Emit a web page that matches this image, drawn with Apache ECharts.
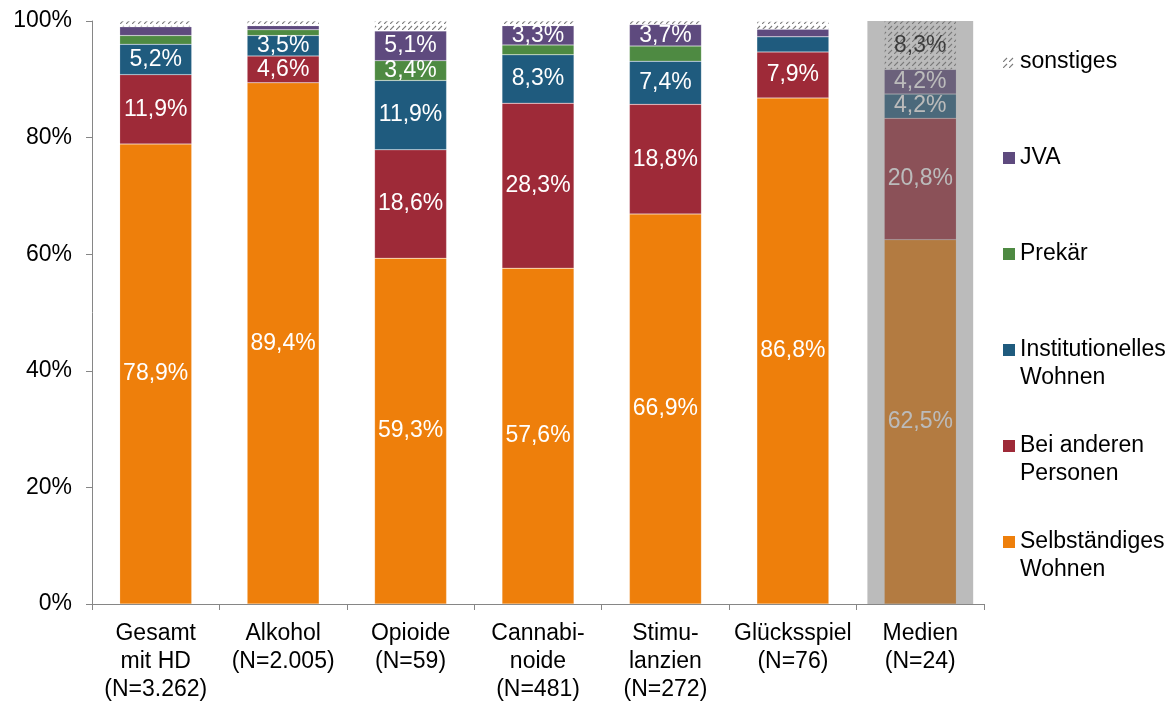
<!DOCTYPE html>
<html>
<head>
<meta charset="utf-8">
<script src="https://cdn.jsdelivr.net/npm/echarts@6/dist/echarts.min.js"></script>
<style>
  html, body { margin: 0; padding: 0; background: #fff; }
  #chart { width: 1174px; height: 704px; }
</style>
</head>
<body>
<div id="chart"></div>
<script>
// Wohnsituation nach Hauptdiagnose (Anteile in %)
const categories = ['Gesamt\nmit HD\n(N=3.262)', 'Alkohol\n(N=2.005)', 'Opioide\n(N=59)', 'Cannabi-\nnoide\n(N=481)', 'Stimu-\nlanzien\n(N=272)', 'Glücksspiel\n(N=76)', 'Medien\n(N=24)'];
const selbstaendig   = [78.9, 89.4, 59.3, 57.6, 66.9, 86.8, 62.5];
const beiAnderen     = [11.9, 4.6, 18.6, 28.3, 18.8, 7.9, 20.8];
const institutionell = [5.2, 3.5, 11.9, 8.3, 7.4, 2.6, 4.2];
const prekaer        = [1.5, 1.0, 3.4, 1.7, 2.6, 0, 0];
const jva            = [1.5, 0.7, 5.1, 3.3, 3.7, 1.3, 4.2];
const sonstiges      = [1.0, 0.8, 1.7, 0.8, 0.6, 1.3, 8.3];
// grey shading over the small-sample group
const hervorhebung   = [null, null, null, null, null, null, 100];
const yTicks = [0, 20, 40, 60, 80, 100];

const FONT = '"Liberation Sans", Arial, sans-serif';

function hatchPattern() {
  const c = document.createElement('canvas');
  c.width = 6; c.height = 6;
  const g = c.getContext('2d');
  g.fillStyle = '#ffffff';
  g.fillRect(0, 0, 6, 6);
  g.strokeStyle = '#7a7a7a';
  g.lineWidth = 1.1;
  g.beginPath();
  g.moveTo(0, 6);
  g.lineTo(4, 2);
  g.stroke();
  return c;
}

const fmt = v => v.toFixed(1).replace('.', ',') + '%';

function stackSeries(name, data, color, labelColor) {
  return {
    name: name,
    type: 'bar',
    stack: 'wohnen',
    barWidth: '56.5%',
    data: data,
    itemStyle: { color: color, borderColor: 'rgba(255,255,255,0.35)', borderWidth: 0.5 },
    label: {
      show: true,
      position: 'inside',
      fontFamily: FONT,
      fontSize: 23,
      color: labelColor || '#ffffff',
      formatter: p => (p.value >= 3 ? fmt(p.value) : '')
    },
    emphasis: { disabled: true }
  };
}

const legendText = {
  'sonstiges': 'sonstiges\n ',
  'JVA': 'JVA\n ',
  'Prekär': 'Prekär\n ',
  'Institutionelles Wohnen': 'Institutionelles\nWohnen',
  'Bei anderen Personen': 'Bei anderen\nPersonen',
  'Selbständiges Wohnen': 'Selbständiges\nWohnen'
};
// square icon sitting on the first text line
const legendIcon = 'path://M0 0H12V12H0Z M0 40H0.01V40.01H0Z';

const chart = echarts.init(document.getElementById('chart'), null, { renderer: 'canvas' });

chart.setOption({
  animation: false,
  backgroundColor: '#ffffff',
  textStyle: { fontFamily: FONT },
  grid: { left: 92, right: 190, top: 21, bottom: 99, containLabel: false },
  legend: {
    orient: 'vertical',
    left: 998,
    top: 43,
    itemWidth: 12,
    itemHeight: 40,
    itemGap: 40,
    icon: legendIcon,
    selectedMode: false,
    itemStyle: { borderWidth: 0 },
    textStyle: { fontFamily: FONT, fontSize: 23, lineHeight: 28, color: '#000000' },
    formatter: n => legendText[n] || n,
    data: ['sonstiges', 'JVA', 'Prekär', 'Institutionelles Wohnen', 'Bei anderen Personen', 'Selbständiges Wohnen']
  },
  xAxis: [
    {
      type: 'category',
      data: categories,
      axisLine: { show: true, lineStyle: { color: '#868686', width: 1 } },
      axisTick: { show: true, length: 6, lineStyle: { color: '#868686' } },
      axisLabel: { interval: 0, margin: 16, fontFamily: FONT, fontSize: 23, lineHeight: 28, color: '#000000' }
    },
    {
      type: 'category',
      data: categories,
      show: false
    }
  ],
  yAxis: {
    type: 'value',
    min: yTicks[0],
    max: yTicks[yTicks.length - 1],
    interval: yTicks[1] - yTicks[0],
    splitLine: { show: false },
    axisLine: { show: true, lineStyle: { color: '#868686', width: 1 } },
    axisTick: { show: true, length: 6, lineStyle: { color: '#868686' } },
    axisLabel: { margin: 20, fontFamily: FONT, fontSize: 23, color: '#000000', formatter: '{value}%' }
  },
  series: [
    stackSeries('Selbständiges Wohnen', selbstaendig, '#EE7F0B'),
    stackSeries('Bei anderen Personen', beiAnderen, '#9E2A38'),
    stackSeries('Institutionelles Wohnen', institutionell, '#1F5B7E'),
    stackSeries('Prekär', prekaer, '#4E8A42'),
    stackSeries('JVA', jva, '#5E4A7E'),
    stackSeries('sonstiges', sonstiges, { image: hatchPattern(), repeat: 'repeat' }, '#000000'),
    {
      name: 'Hervorhebung',
      type: 'bar',
      xAxisIndex: 1,
      barWidth: '83%',
      z: 5,
      silent: true,
      data: hervorhebung,
      itemStyle: { color: 'rgba(120,120,120,0.5)' },
      label: { show: false }
    }
  ]
});
</script>
</body>
</html>
